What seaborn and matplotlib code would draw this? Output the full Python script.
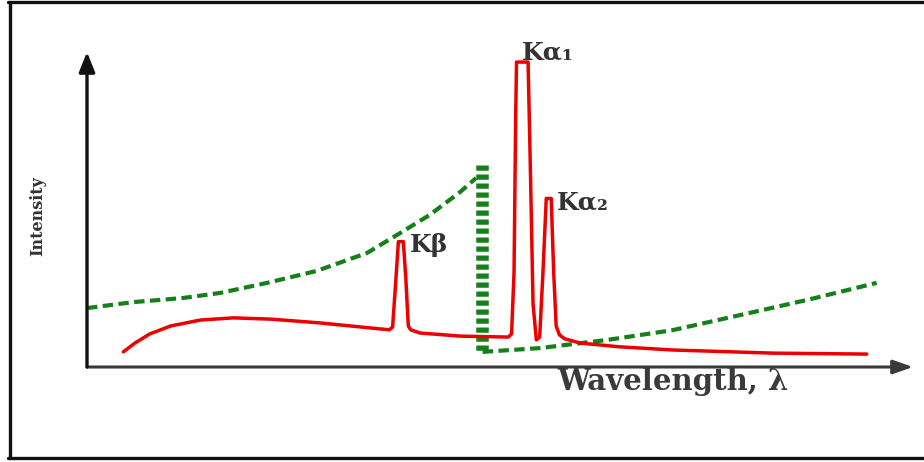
import matplotlib
matplotlib.use("Agg")
import matplotlib.pyplot as plt
import seaborn as sns
import pandas as pd

# ---- data (arbitrary units) ----
# characteristic + continuous spectrum (red)
spec_wavelength = [4.4, 5.8, 7.6, 10.1, 13.7, 17.7, 22.2, 28.2, 34.3, 36.6,
                   37.0, 37.4, 37.7, 38.3, 38.6, 38.9, 39.2, 40.3, 45.2, 51.0,
                   51.4, 51.7, 51.9, 52.0, 53.4, 53.7, 54.0, 54.4, 54.8, 55.2,
                   55.6, 56.2, 56.5, 56.8, 57.2, 57.8, 59.7, 64.5, 70.9, 83.1, 94.4]
spec_intensity = [4.8, 7.6, 10.5, 13.0, 14.9, 15.6, 15.2, 14.0, 12.4, 11.8,
                  12.7, 28.0, 39.8, 39.8, 28.0, 13.0, 11.8, 10.8, 9.8, 9.5,
                  10.5, 30.0, 80.0, 96.8, 96.8, 60.0, 20.0, 8.6, 9.5, 30.0,
                  53.5, 53.5, 30.0, 13.0, 10.2, 9.0, 7.6, 6.4, 5.4, 4.4, 4.1]

# absorption curve (green dashed), short-wavelength branch
abs_left_wavelength = [0.0, 5.6, 11.6, 16.1, 21.8, 27.8, 33.9, 37.9, 41.5, 45.2, 47.1]
abs_left_intensity = [18.7, 20.6, 21.9, 23.5, 26.7, 30.5, 36.2, 42.5, 48.3, 55.6, 60.0]
# absorption edge
edge_wavelength = [47.8, 47.8]
edge_intensity = [64.1, 4.4]
# long-wavelength branch
abs_right_wavelength = [47.9, 54.8, 63.0, 70.9, 79.1, 87.2, 95.6]
abs_right_intensity = [4.8, 6.0, 8.6, 11.7, 16.5, 21.3, 26.7]

peak_labels = ["K\u03b2", "K\u03b1\u2081", "K\u03b1\u2082"]
peak_label_x = [39.1, 52.7, 56.9]
peak_label_y = [38.7, 100.0, 52.1]

x_label = "Wavelength, \u03bb"
y_label = "Intensity"

RED = "#ec0000"
GREEN = "#15801a"

sns.set_theme(style="white")
plt.rcParams["font.family"] = ["DejaVu Serif", "DejaVu Sans"]

W, H = 924, 462
fig = plt.figure(figsize=(W / 100, H / 100), dpi=100)
fig.patch.set_facecolor("white")
ax = fig.add_axes([87 / W, 95 / H, (913 - 87) / W, (367 - 52) / H])
ax.set_facecolor("white")
for s in ax.spines.values():
    s.set_visible(False)

df_spec = pd.DataFrame({"w": spec_wavelength, "i": spec_intensity})
df_left = pd.DataFrame({"w": abs_left_wavelength, "i": abs_left_intensity})
df_edge = pd.DataFrame({"w": edge_wavelength, "i": edge_intensity})
df_right = pd.DataFrame({"w": abs_right_wavelength, "i": abs_right_intensity})

common = dict(ax=ax, sort=False, estimator=None, errorbar=None)
sns.lineplot(data=df_left, x="w", y="i", color=GREEN, lw=3,
             linestyle=(0, (2.5, 1.3)), zorder=2, **common)
sns.lineplot(data=df_right, x="w", y="i", color=GREEN, lw=3,
             linestyle=(0, (2.5, 1.3)), zorder=2, **common)
sns.lineplot(data=df_edge, x="w", y="i", color=GREEN, lw=9,
             linestyle=(0, (0.42, 0.3)), zorder=2, **common)
for ln in ax.lines:
    ln.set_dash_capstyle("butt")
sns.lineplot(data=df_spec, x="w", y="i", color=RED, lw=2.5, zorder=3, **common)

ax.set_xlim(0, 100)
ax.set_ylim(0, 100)
ax.set_xticks([])
ax.set_yticks([])
ax.set_xlabel("")
ax.set_ylabel("")

# axes arrows
ax.annotate("", xy=(1.0, 0.0), xytext=(0.0, 0.0), xycoords="axes fraction",
            arrowprops=dict(arrowstyle="-|>,head_length=1.0,head_width=0.35",
                            color="#3a3a3a", lw=2.2, shrinkA=0, shrinkB=0),
            annotation_clip=False)
ax.annotate("", xy=(0.0, 1.0), xytext=(0.0, 0.0), xycoords="axes fraction",
            arrowprops=dict(arrowstyle="-|>,head_length=1.0,head_width=0.4",
                            color="#111111", lw=2.4, shrinkA=0, shrinkB=0),
            annotation_clip=False)

# peak labels
for t, x, y in zip(peak_labels, peak_label_x, peak_label_y):
    ax.text(x, y, t, ha="left", va="center", fontsize=18, fontweight="bold",
            color="#333333", clip_on=False)

# axis titles
fig.text(673 / W, 1 - 381 / H, x_label, ha="center", va="center",
         fontsize=21, fontweight="bold", color="#3a3a3a")
fig.text(38 / W, 1 - 216 / H, y_label, ha="center", va="center",
         rotation=90, fontsize=11.5, fontweight="bold", color="#333333")

# outer frame (left, top, bottom)
fig.add_artist(plt.Line2D([9.5 / W, 9.5 / W], [1 - 1.5 / H, 1 - 457.5 / H],
                          transform=fig.transFigure, color="#111111", lw=2.4))
fig.add_artist(plt.Line2D([8 / W, 1.0], [1 - 1.5 / H, 1 - 1.5 / H],
                          transform=fig.transFigure, color="#111111", lw=2.4))
fig.add_artist(plt.Line2D([8 / W, 1.0], [1 - 457.5 / H, 1 - 457.5 / H],
                          transform=fig.transFigure, color="#111111", lw=2.4))

fig.savefig("out.png", dpi=100, facecolor="white")
